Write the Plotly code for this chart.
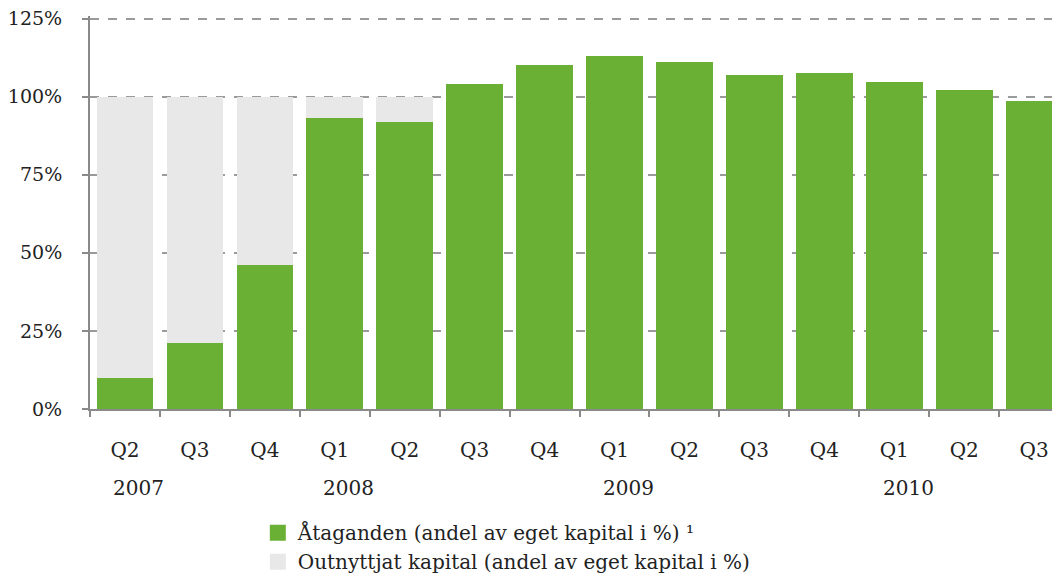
import plotly.graph_objects as go

quarters = ["Q2", "Q3", "Q4", "Q1", "Q2", "Q3", "Q4", "Q1", "Q2", "Q3", "Q4", "Q1", "Q2", "Q3"]
years = ["2007", "2007", "2007", "2008", "2008", "2008", "2008", "2009", "2009", "2009", "2009", "2010", "2010", "2010"]
ataganden = [10, 21, 46, 93, 92, 104, 110, 113, 111, 107, 107.6, 104.8, 102, 98.6]
outnyttjat = [90, 79, 54, 7, 8, 0, 0, 0, 0, 0, 0, 0, 0, 0]
y_ticks = [0, 25, 50, 75, 100, 125]
y_ticktext = ["0%", "25%", "50%", "75%", "100%", "125%"]
series_names = ["Åtaganden (andel av eget kapital i %) ¹",
                "Outnyttjat kapital (andel av eget kapital i %)"]

GREEN = "#69b034"
GRAY = "#e8e8e8"
SERIF = "DejaVu Serif, Liberation Serif, serif"
TXT = "#222222"

x = list(range(len(quarters)))

fig = go.Figure()
fig.add_trace(go.Bar(x=x, y=ataganden, marker_color=GREEN, marker_line_width=0,
                     name=series_names[0], showlegend=False))
fig.add_trace(go.Bar(x=x, y=outnyttjat, marker_color=GRAY, marker_line_width=0,
                     name=series_names[1], showlegend=False))
# legend entries with larger square swatches
for nm, col in zip(series_names, [GREEN, GRAY]):
    fig.add_trace(go.Scatter(x=[None], y=[None], mode="markers", name=nm,
                             marker=dict(symbol="square", size=16, color=col)))

# year labels
seen = set()
for i, yv in enumerate(years):
    if yv not in seen:
        seen.add(yv)
        fig.add_annotation(x=i + 0.2, y=-0.2, xref="x", yref="paper", text=yv,
                           showarrow=False, yanchor="middle", xanchor="center",
                           font=dict(family=SERIF, size=20, color=TXT))

fig.update_layout(
    width=1060, height=579,
    margin=dict(l=82, r=8, t=8, b=178, autoexpand=False),
    plot_bgcolor="white", paper_bgcolor="white",
    barmode="stack", bargap=0.19,
    showlegend=True,
    legend=dict(x=0.173, y=-0.265, xanchor="left", yanchor="top",
                font=dict(family=SERIF, size=20, color=TXT),
                traceorder="normal", itemsizing="trace", tracegroupgap=0,
                itemwidth=30, bgcolor="rgba(0,0,0,0)"),
    xaxis=dict(range=[-0.5, 13.37], tickmode="array", tickvals=x, ticktext=quarters,
               ticks="", showgrid=False, zeroline=False, automargin=False,
               showline=True, linecolor="#8a8a8a", linewidth=2,
               tickfont=dict(family=SERIF, size=20, color=TXT),
               ticklabelstandoff=22,
               minor=dict(tickmode="linear", tick0=-0.5, dtick=1, ticks="outside",
                          ticklen=6, tickcolor="#8a8a8a", tickwidth=2, showgrid=False)),
    yaxis=dict(range=[0, 125.8], tickmode="array", tickvals=y_ticks, ticktext=y_ticktext,
               ticks="outside", ticklen=6, tickcolor="#8a8a8a", tickwidth=2,
               showline=True, linecolor="#8a8a8a", linewidth=2,
               showgrid=True, gridcolor="#9a9a9a", gridwidth=1.5, griddash="dash",
               zeroline=False, ticklabeloverflow="allow", automargin=False,
               tickfont=dict(family=SERIF, size=19, color=TXT),
               ticklabelstandoff=16),
)

fig.write_html("out.html")
